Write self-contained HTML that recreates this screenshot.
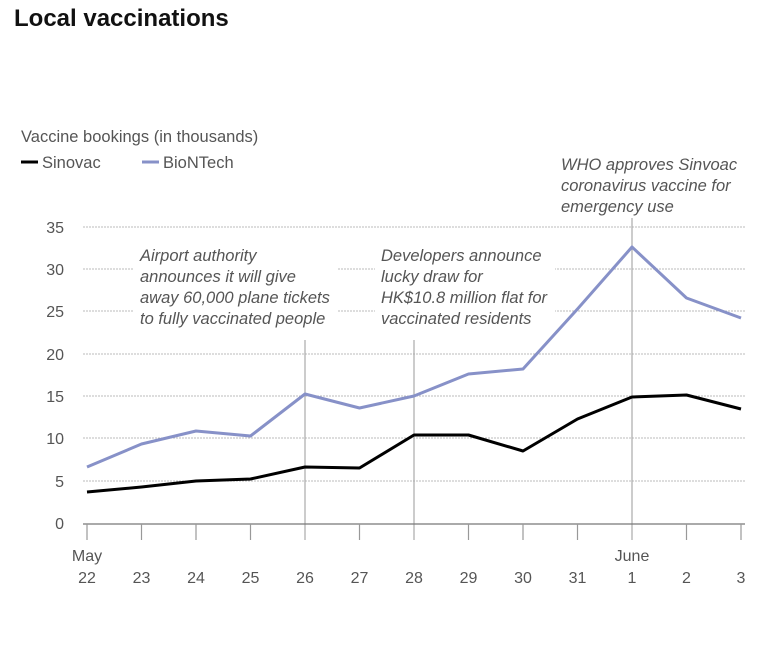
<!DOCTYPE html><html><head><style>body{margin:0;background:#fff;width:781px;height:661px;overflow:hidden}</style></head><body>
<svg width="781" height="661" font-family="Liberation Sans, sans-serif">
<text x="14" y="26" font-size="24" font-weight="bold" fill="#111">Local vaccinations</text>
<text x="21" y="142" font-size="16.5" fill="#555">Vaccine bookings (in thousands)</text>
<line x1="21" y1="162" x2="38" y2="162" stroke="#000" stroke-width="3"/>
<text x="42" y="168" font-size="16.5" fill="#555">Sinovac</text>
<line x1="142" y1="162" x2="159" y2="162" stroke="#8791c8" stroke-width="3"/>
<text x="163" y="168" font-size="16.5" fill="#555">BioNTech</text>
<g stroke="#bbb" stroke-dasharray="2,1" stroke-width="1">
<line x1="83" y1="227" x2="745" y2="227"/><line x1="83" y1="269" x2="745" y2="269"/><line x1="83" y1="311" x2="745" y2="311"/><line x1="83" y1="354" x2="745" y2="354"/><line x1="83" y1="396" x2="745" y2="396"/><line x1="83" y1="438" x2="745" y2="438"/><line x1="83" y1="481" x2="745" y2="481"/>
</g>
<g fill="#555" font-size="16" text-anchor="end">
<text x="64" y="233">35</text><text x="64" y="275">30</text><text x="64" y="317">25</text><text x="64" y="360">20</text><text x="64" y="402">15</text><text x="64" y="444">10</text><text x="64" y="487">5</text><text x="64" y="529">0</text>
</g>
<rect x="133" y="242" width="205" height="86" fill="#fff"/>
<rect x="375" y="242" width="180" height="86" fill="#fff"/>
<g stroke="#aaa" stroke-width="1.2"><line x1="305" y1="340" x2="305" y2="540"/><line x1="414" y1="340" x2="414" y2="540"/><line x1="632" y1="218" x2="632" y2="540"/></g>
<g fill="#555" font-size="16.5" font-style="italic">
<text x="140" y="261">Airport authority</text><text x="140" y="282">announces it will give</text><text x="140" y="303">away 60,000 plane tickets</text><text x="140" y="324">to fully vaccinated people</text>
<text x="381" y="261">Developers announce</text><text x="381" y="282">lucky draw for</text><text x="381" y="303">HK$10.8 million flat for</text><text x="381" y="324">vaccinated residents</text>
<text x="561" y="170">WHO approves Sinvoac</text><text x="561" y="191">coronavirus vaccine for</text><text x="561" y="212">emergency use</text>
</g>
<line x1="83" y1="524" x2="745" y2="524" stroke="#777" stroke-width="1.2"/>
<g stroke="#999" stroke-width="1.2">
<line x1="87" y1="524" x2="87" y2="540"/><line x1="141.5" y1="524" x2="141.5" y2="540"/><line x1="196" y1="524" x2="196" y2="540"/><line x1="250.5" y1="524" x2="250.5" y2="540"/><line x1="359.5" y1="524" x2="359.5" y2="540"/><line x1="468.5" y1="524" x2="468.5" y2="540"/><line x1="523" y1="524" x2="523" y2="540"/><line x1="577.5" y1="524" x2="577.5" y2="540"/><line x1="686.5" y1="524" x2="686.5" y2="540"/><line x1="741" y1="524" x2="741" y2="540"/>
</g>
<polyline fill="none" stroke="#8791c8" stroke-width="3" stroke-linejoin="round" points="87,467 141.5,444 196,431 250.5,436 305,394 359.5,408 414,396 468.5,374 523,369 577.5,309 632,247 686.5,298 741,318"/>
<polyline fill="none" stroke="#000" stroke-width="3" stroke-linejoin="round" points="87,492 141.5,487 196,481 250.5,479 305,467 359.5,468 414,435 468.5,435 523,451 577.5,419 632,397 686.5,395 741,409"/>
<g fill="#555" font-size="16" text-anchor="middle">
<text x="87" y="561">May</text><text x="632" y="561">June</text>
<text x="87" y="583">22</text><text x="141.5" y="583">23</text><text x="196" y="583">24</text><text x="250.5" y="583">25</text><text x="305" y="583">26</text><text x="359.5" y="583">27</text><text x="414" y="583">28</text><text x="468.5" y="583">29</text><text x="523" y="583">30</text><text x="577.5" y="583">31</text><text x="632" y="583">1</text><text x="686.5" y="583">2</text><text x="741" y="583">3</text>
</g>
</svg></body></html>
